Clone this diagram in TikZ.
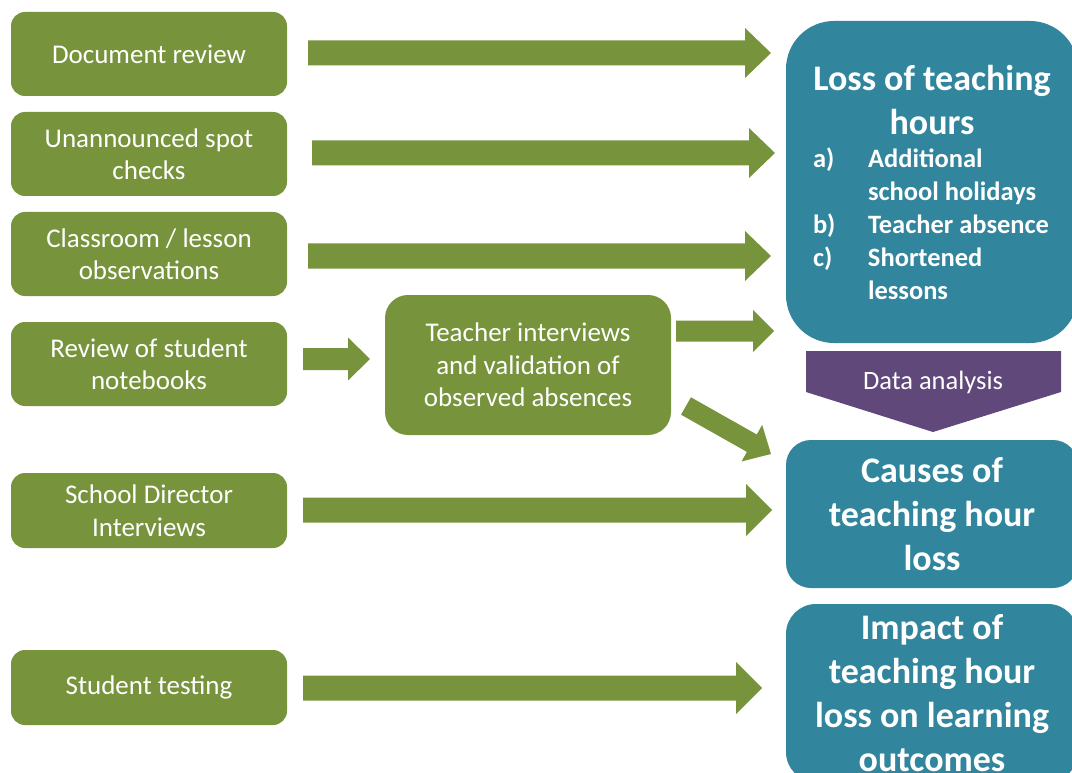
\documentclass[tikz,border=0pt]{standalone}
\usepackage{fontspec}
\setmainfont{Carlito}
\usetikzlibrary{calc}

\definecolor{boxgreen}{HTML}{77933C}
\definecolor{boxteal}{HTML}{31859C}
\definecolor{boxplum}{HTML}{60497A}

\tikzset{
  source/.style={fill=boxgreen, text=white, align=center, inner sep=0pt,
    rounded corners=14pt, minimum width=276pt,
    font=\fontsize{27}{32.5}\selectfont},
  resultbox/.style={fill=boxteal, text=white, inner sep=0pt,
    minimum width=292pt, font=\bfseries\fontsize{36}{44}\selectfont},
  result/.style={resultbox, align=center},
  arrowfill/.style={fill=boxgreen},
}

% Block arrow from #1 to #2: shaft half width #3, head half width #4, head length #5
\newcommand{\blockarrow}[5]{%
  \coordinate (hb) at ($(#2)!#5!(#1)$);
  \fill[arrowfill]
    ($(#1)!#3!90:(#2)$) -- ($(hb)!#3!90:(#2)$) -- ($(hb)!#4!90:(#2)$) --
    (#2) --
    ($(hb)!#4!-90:(#2)$) -- ($(hb)!#3!-90:(#2)$) -- ($(#1)!#3!-90:(#2)$) -- cycle;
}
\newcommand{\itemlabel}[1]{\makebox[61pt][l]{\hspace*{6pt}#1}}

\begin{document}
\begin{tikzpicture}[x=1pt, y=-1pt]
  \useasboundingbox (0,0) rectangle (1072,773);
  \clip (0,0) rectangle (1072,773);

  % data collection methods
  \node[source, minimum height=84pt] (doc)   at (149,54)  {Document review};
  \node[source, minimum height=84pt] (spot)  at (149,154) {Unannounced spot\\checks};
  \node[source, minimum height=84pt] (obs)   at (149,254) {Classroom / lesson\\observations};
  \node[source, minimum height=84pt] (note)  at (149,364) {Review of student\\notebooks};
  \node[source, minimum height=75pt] (dir)   at (149,510.5) {School Director\\Interviews};
  \node[source, minimum height=75pt] (test)  at (149,687.5) {Student testing};

  \node[source, minimum width=286pt, minimum height=140pt, rounded corners=23pt]
    (teach) at (528,365) {Teacher interviews\\and validation of\\observed absences};

  % outcomes
  \node[resultbox, minimum height=322pt, rounded corners=48pt]
    (loss) at (932,182) {\parbox{250pt}{%
      \centering Loss of teaching\\ hours\par
      \raggedright\fontsize{26.5}{33}\selectfont
      \itemlabel{a)}Additional\\
      \hspace*{61pt}school holidays\\
      \itemlabel{b)}Teacher absence\\
      \itemlabel{c)}Shortened\\
      \hspace*{61pt}lessons\par}};
  \node[result, minimum height=148pt, rounded corners=25pt]
    (cause) at (932,514) {Causes of\\teaching hour\\loss};
  \node[result, minimum height=178pt, rounded corners=30pt]
    (impact) at (932,693) {Impact of\\teaching hour\\loss on learning\\outcomes};

  % analysis step
  \fill[boxplum] (806,351) -- (1061,351) -- (1061,392) -- (933,432) -- (806,392) -- cycle;
  \node[text=white, font=\fontsize{26.5}{32}\selectfont] (analysis) at (933,382) {Data analysis};

  % arrow end points
  \coordinate (a1s) at (308,53);   \coordinate (a1e) at (771,53);
  \coordinate (a2s) at (312,153);  \coordinate (a2e) at (775,153);
  \coordinate (a3s) at (308,256);  \coordinate (a3e) at (771,256);
  \coordinate (a4s) at (303,359);  \coordinate (a4e) at (370,359);
  \coordinate (a5s) at (676,331);  \coordinate (a5e) at (774,331);
  \coordinate (a6s) at (686,406);  \coordinate (a6e) at (771,454);
  \coordinate (a7s) at (303,510);  \coordinate (a7e) at (772,510);
  \coordinate (a8s) at (303,688);  \coordinate (a8e) at (762,688);

  \blockarrow{a1s}{a1e}{12.5pt}{25pt}{26pt}
  \blockarrow{a2s}{a2e}{12.5pt}{25pt}{26pt}
  \blockarrow{a3s}{a3e}{12.5pt}{25pt}{26pt}
  \blockarrow{a4s}{a4e}{11pt}{21.5pt}{22pt}
  \blockarrow{a5s}{a5e}{10.5pt}{21pt}{21pt}
  \blockarrow{a6s}{a6e}{10pt}{21pt}{22pt}
  \blockarrow{a7s}{a7e}{12.5pt}{26pt}{26pt}
  \blockarrow{a8s}{a8e}{12.5pt}{26pt}{26pt}
\end{tikzpicture}
\end{document}
